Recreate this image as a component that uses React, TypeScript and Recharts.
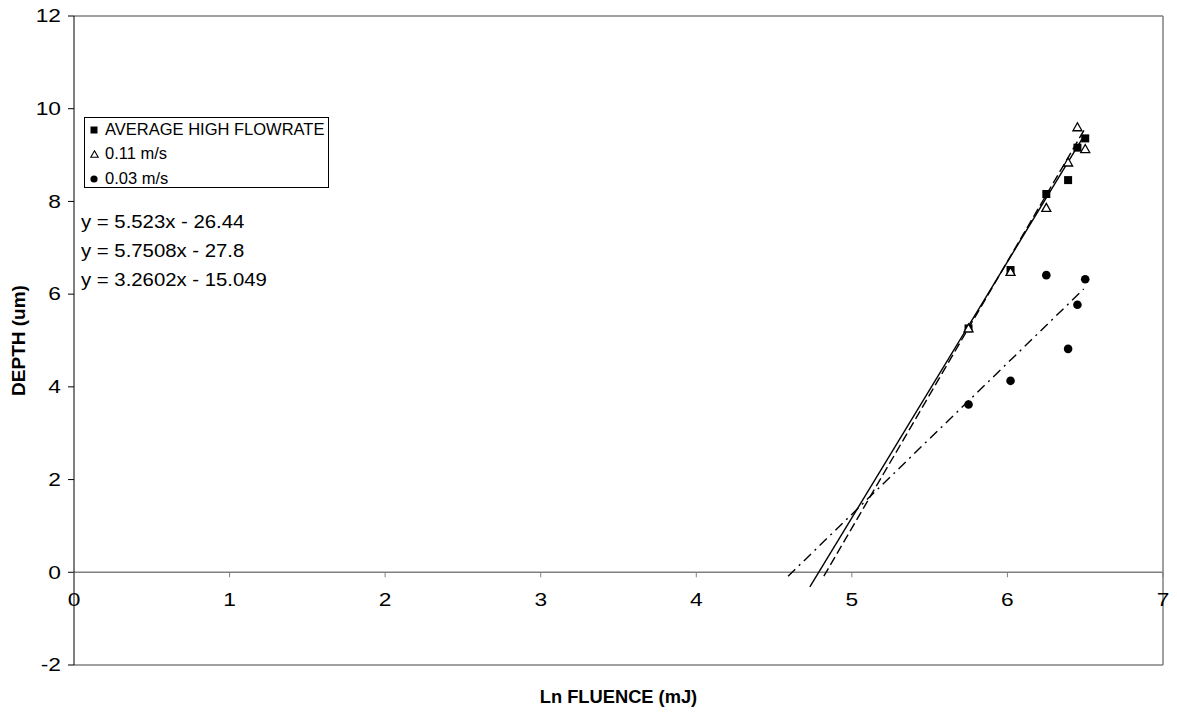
import React from 'react';
import {
  ComposedChart,
  Scatter,
  Line,
  XAxis,
  YAxis,
  ReferenceLine,
  ReferenceDot,
  Legend,
} from 'recharts';

// Ln fluence values shared by all three series
const lnFluence = [5.75, 6.02, 6.25, 6.39, 6.45, 6.5];
const avgHighFlow = [5.26, 6.52, 8.16, 8.46, 9.16, 9.36];
const flow011 = [5.26, 6.48, 7.86, 8.84, 9.6, 9.13];
const flow003 = [3.62, 4.13, 6.41, 4.82, 5.77, 6.32];

const seriesNames = ['AVERAGE HIGH FLOWRATE', '0.11 m/s', '0.03 m/s'];

// linear trendlines (as printed on the chart) and the x range they cover
const trendSlopes = [5.523, 5.7508, 3.2602];
const trendIntercepts = [-26.44, -27.8, -15.049];
const trendFrom = [4.73, 4.82, 4.59];
const trendTo = [6.48, 6.5, 6.49];
const equations = ['y = 5.523x - 26.44', 'y = 5.7508x - 27.8', 'y = 3.2602x - 15.049'];

const xTicks = [0, 1, 2, 3, 4, 5, 6, 7];
const yTicks = [-2, 0, 2, 4, 6, 8, 10, 12];

const FONT = '"Liberation Sans", Arial, sans-serif';
const GREY = '#808080';
const TICK_FONT = 17.5;
const TICK_STRETCH = 1.3; // excel's tick labels come out wide

const toPoints = (ys: number[]) => lnFluence.map((x, i) => ({ x, y: ys[i] }));
const trend = (i: number) => [
  { x: trendFrom[i], y: trendSlopes[i] * trendFrom[i] + trendIntercepts[i] },
  { x: trendTo[i], y: trendSlopes[i] * trendTo[i] + trendIntercepts[i] },
];

const SquareMark = (p: any) => <rect x={p.cx - 4} y={p.cy - 4} width={8} height={8} fill="#000" />;
const TriangleMark = (p: any) => (
  <polygon
    points={`${p.cx},${p.cy - 4.5} ${p.cx + 4.5},${p.cy + 3.5} ${p.cx - 4.5},${p.cy + 3.5}`}
    fill="#fff"
    stroke="#000"
    strokeWidth={1.3}
  />
);
const CircleMark = (p: any) => <circle cx={p.cx} cy={p.cy} r={4.3} fill="#000" />;

const WideText = ({ x, y, anchor, children }: any) => (
  <text
    transform={`translate(${x},${y}) scale(${TICK_STRETCH},1)`}
    textAnchor={anchor}
    dy="0.355em"
    fontSize={TICK_FONT}
    fontFamily={FONT}
    fill="#000"
  >
    {children}
  </text>
);

const YTick = (p: any) => (
  <WideText x={p.x} y={p.y} anchor="end">
    {p.payload.value}
  </WideText>
);

// tick mark + label for the horizontal axis, which crosses at y = 0
const XTickAtZero = (value: number) => (p: any) => (
  <g>
    <line x1={p.cx} y1={p.cy} x2={p.cx} y2={p.cy + 5} stroke={GREY} strokeWidth={1} />
    <WideText x={p.cx} y={p.cy + 27} anchor="middle">
      {value}
    </WideText>
  </g>
);

const legendIcons = [
  <svg width={8} height={8} key="s"><rect x={0.5} y={0.5} width={7} height={7} fill="#000" /></svg>,
  <svg width={9} height={8} key="t"><polygon points="4.5,0.8 8.2,7.3 0.8,7.3" fill="#fff" stroke="#000" strokeWidth={1.1} /></svg>,
  <svg width={8} height={8} key="c"><circle cx={4} cy={4} r={3.6} fill="#000" /></svg>,
];

const LegendBox = () => (
  <div
    style={{
      border: '1px solid #000',
      background: '#fff',
      width: 243,
      height: 69,
      fontFamily: FONT,
      fontSize: 16.5,
      color: '#000',
      lineHeight: '25px',
      marginTop: -1,
    }}
  >
    {seriesNames.map((name, i) => (
      <div key={name} style={{ display: 'flex', alignItems: 'center', paddingLeft: 5, height: i === 0 ? 23 : 25 }}>
        <span style={{ width: 15, display: 'inline-flex', alignItems: 'center' }}>{legendIcons[i]}</span>
        <span>{name}</span>
      </div>
    ))}
  </div>
);

export default function App() {
  return (
    <div style={{ position: 'absolute', left: 0, top: 0, width: 1177, height: 713, fontFamily: FONT, background: '#fff' }}>
      <ComposedChart width={1177} height={713} margin={{ top: 16, right: 14, bottom: 0, left: 0 }}>
        <XAxis
          type="number"
          dataKey="x"
          domain={[0, 7]}
          ticks={xTicks}
          tick={false}
          tickLine={false}
          axisLine={{ stroke: GREY, strokeWidth: 1.5 }}
          height={48}
          label={{
            value: 'Ln FLUENCE (mJ)',
            position: 'insideBottom',
            offset: 10,
            style: { fontWeight: 'bold', fontSize: 18.3, fill: '#000', fontFamily: FONT },
          }}
        />
        <YAxis
          type="number"
          dataKey="y"
          domain={[-2, 12]}
          ticks={yTicks}
          interval={0}
          width={74}
          axisLine={{ stroke: '#000', strokeWidth: 1 }}
          tickLine={{ stroke: '#000' }}
          tickSize={6}
          tickMargin={7}
          tick={YTick}
          label={{
            value: 'DEPTH (um)',
            angle: -90,
            position: 'insideLeft',
            offset: 18,
            style: { textAnchor: 'middle', fontWeight: 'bold', fontSize: 19, fill: '#000', fontFamily: FONT },
          }}
        />
        <ReferenceLine y={12} stroke={GREY} strokeWidth={1.5} />
        <ReferenceLine x={7} stroke={GREY} strokeWidth={1.5} />
        <ReferenceLine y={0} stroke={GREY} strokeWidth={1.5} />
        {xTicks.map((t) => (
          <ReferenceDot key={t} x={t} y={0} r={0} shape={XTickAtZero(t)} />
        ))}
        <Legend
          layout="vertical"
          align="center"
          verticalAlign="middle"
          content={() => <LegendBox />}
          wrapperStyle={{ left: 84, top: 118, width: 'auto', height: 'auto' }}
        />
        <Scatter name={seriesNames[0]} data={toPoints(avgHighFlow)} shape={SquareMark} isAnimationActive={false} />
        <Scatter name={seriesNames[1]} data={toPoints(flow011)} shape={TriangleMark} isAnimationActive={false} />
        <Scatter name={seriesNames[2]} data={toPoints(flow003)} shape={CircleMark} isAnimationActive={false} />
        <Line data={trend(0)} dataKey="y" type="linear" stroke="#000" strokeWidth={1.4} dot={false} legendType="none" isAnimationActive={false} />
        <Line data={trend(1)} dataKey="y" type="linear" stroke="#000" strokeWidth={1.4} strokeDasharray="9 4" dot={false} legendType="none" isAnimationActive={false} />
        <Line data={trend(2)} dataKey="y" type="linear" stroke="#000" strokeWidth={1.4} strokeDasharray="10 5 2 5" dot={false} legendType="none" isAnimationActive={false} />
      </ComposedChart>
      <div
        style={{
          position: 'absolute',
          left: 81,
          top: 207,
          fontSize: 19,
          lineHeight: '29px',
          color: '#000',
          transform: 'scaleX(1.07)',
          transformOrigin: '0 0',
          whiteSpace: 'nowrap',
        }}
      >
        {equations.map((e) => (
          <div key={e}>{e}</div>
        ))}
      </div>
    </div>
  );
}
